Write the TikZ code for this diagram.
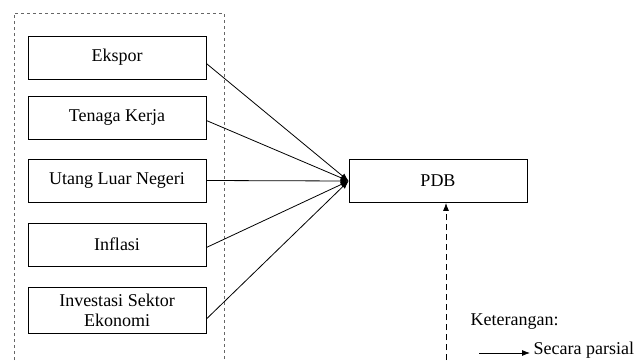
\documentclass[tikz,border=0pt]{standalone}
\usepackage{fontspec}
\setmainfont{Liberation Serif}
\usetikzlibrary{positioning,arrows.meta}

\begin{document}
\begin{tikzpicture}[x=1pt,y=1pt,on grid,line width=0.8pt,
    var/.style={draw,minimum width=178pt,minimum height=43pt,align=center,
      font=\fontsize{18}{20}\selectfont},
    pengaruh/.style={-{Latex[length=8pt,width=6pt]}}]
  \useasboundingbox (0,0) rectangle (638,360);
  % kotak variabel bebas
  \draw[dashed,gray!80!black] (14,0) |- (224,347) -- (224,0);
  \node[var] (ekspor) at (117,302.5) {Ekspor};
  \node[var] (tk) [below=60pt of ekspor] {Tenaga Kerja};
  \node[var] (uln) [below=63pt of tk] {Utang Luar Negeri};
  \node[var] (inf) [below=64pt of uln] {Inflasi};
  \node[var,minimum height=46pt] (inv) [below=65.5pt of inf] {Investasi Sektor\\Ekonomi};
  \node[var] (pdb) at (438,179) {PDB};
  \draw[pengaruh] ([yshift=-6pt]ekspor.east) -- (pdb.west);
  \draw[pengaruh] ([yshift=-3pt]tk.east) -- (pdb.west);
  \draw[pengaruh] (uln.east) -- (pdb.west);
  \draw[pengaruh] ([yshift=-3pt]inf.east) -- (pdb.west);
  \draw[pengaruh] ([yshift=-9pt]inv.east) -- (pdb.west);
  % simultan
  \coordinate (sim) at (446,0);
  \draw[pengaruh,dash pattern=on 6pt off 4pt] (sim) -- (sim |- pdb.south);
  % keterangan
  \node[anchor=west,font=\fontsize{18}{20}\selectfont] (ket) at (467,38) {Keterangan:};
  \coordinate (lg) at (479,7);
  \node[anchor=west,font=\fontsize{18}{20}\selectfont] (parsial) at (530,10) {Secara parsial};
  \draw[pengaruh] (lg) -- (lg -| parsial.west);
\end{tikzpicture}
\end{document}
